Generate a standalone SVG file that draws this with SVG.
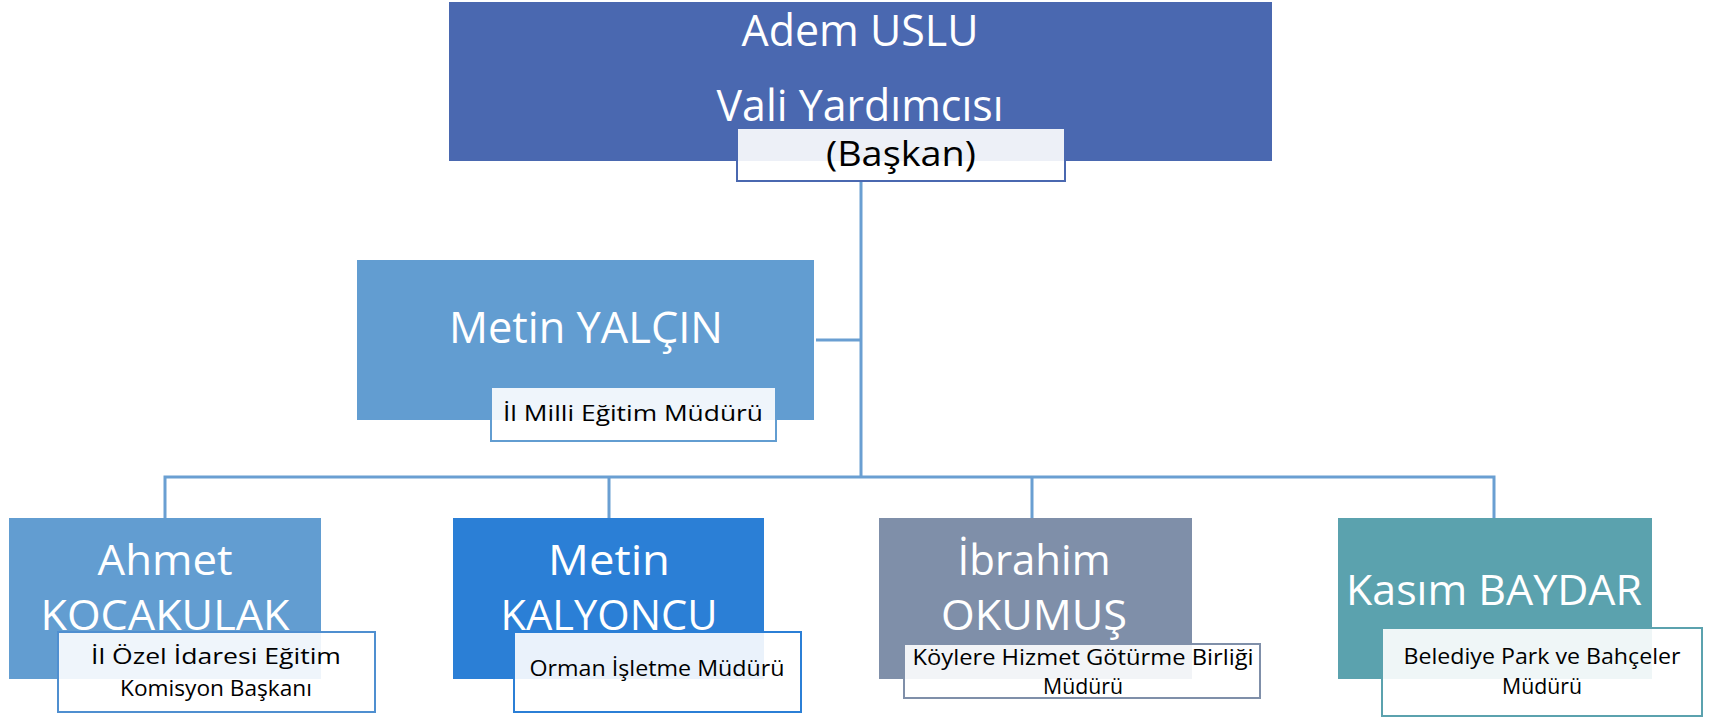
<svg xmlns="http://www.w3.org/2000/svg" width="1715" height="718" viewBox="0 0 1715 718">
<style>
.name{font-family:"Open Sans","Noto Sans",sans-serif;fill:#ffffff;text-anchor:middle}
.sub{font-family:"Open Sans","Noto Sans",sans-serif;fill:#000000;text-anchor:middle}
.lbl{fill:#ffffff;fill-opacity:0.9;stroke-width:2}
.conn{stroke:#6A9FD2;stroke-width:3;fill:none}
</style>
<rect width="1715" height="718" fill="#ffffff"/>
<g id="connectors">
<path class="conn" d="M861 181 V477 M816 340 H861 M165 518 V477 H1494 V518 M609 477 V518 M1032 477 V518"/>
</g>
<g id="node-adem">
<rect x="449" y="2" width="823" height="159" fill="#4A68B0"/>
<text class="name" x="860" y="46" font-size="43" textLength="237" lengthAdjust="spacingAndGlyphs">Adem USLU</text>
<text class="name" x="860" y="121" font-size="43" textLength="287" lengthAdjust="spacingAndGlyphs">Vali Yardımcısı</text>
<rect class="lbl" x="737" y="128" width="328" height="53" stroke="#4A68B0"/>
<text class="sub" x="901" y="166" font-size="35" textLength="150" lengthAdjust="spacingAndGlyphs">(Başkan)</text>
</g>
<g id="node-metin-yalcin">
<rect x="357" y="260" width="457" height="160" fill="#629DD1"/>
<text class="name" x="586" y="343" font-size="44" textLength="274" lengthAdjust="spacingAndGlyphs">Metin YALÇIN</text>
<rect class="lbl" x="491" y="387" width="285" height="54" stroke="#629DD1"/>
<text class="sub" x="633" y="421" font-size="22" textLength="260" lengthAdjust="spacingAndGlyphs">İl Milli Eğitim Müdürü</text>
</g>
<g id="node-ahmet">
<rect x="9" y="518" width="312" height="161" fill="#629DD1"/>
<text class="name" x="165" y="575" font-size="42" textLength="135" lengthAdjust="spacingAndGlyphs">Ahmet</text>
<text class="name" x="165" y="630" font-size="42" textLength="249" lengthAdjust="spacingAndGlyphs">KOCAKULAK</text>
<rect class="lbl" x="58" y="632" width="317" height="80" stroke="#4F8FD0"/>
<text class="sub" x="216" y="664" font-size="21" textLength="250" lengthAdjust="spacingAndGlyphs">İl Özel İdaresi Eğitim</text>
<text class="sub" x="216" y="696" font-size="21" textLength="192" lengthAdjust="spacingAndGlyphs">Komisyon Başkanı</text>
</g>
<g id="node-metin-kalyoncu">
<rect x="453" y="518" width="311" height="161" fill="#2B7FD6"/>
<text class="name" x="609" y="575" font-size="42" textLength="122" lengthAdjust="spacingAndGlyphs">Metin</text>
<text class="name" x="609" y="630" font-size="42" textLength="217" lengthAdjust="spacingAndGlyphs">KALYONCU</text>
<rect class="lbl" x="514" y="632" width="287" height="80" stroke="#2B7FD6"/>
<text class="sub" x="657" y="676" font-size="21" textLength="255" lengthAdjust="spacingAndGlyphs">Orman İşletme Müdürü</text>
</g>
<g id="node-ibrahim">
<rect x="879" y="518" width="313" height="161" fill="#7F8FA9"/>
<text class="name" x="1034" y="575" font-size="42" textLength="153" lengthAdjust="spacingAndGlyphs">İbrahim</text>
<text class="name" x="1034" y="630" font-size="42" textLength="186" lengthAdjust="spacingAndGlyphs">OKUMUŞ</text>
<rect class="lbl" x="904" y="644" width="356" height="54" stroke="#7F8FA9"/>
<text class="sub" x="1083" y="665" font-size="21" textLength="341" lengthAdjust="spacingAndGlyphs">Köylere Hizmet Götürme Birliği</text>
<text class="sub" x="1083" y="694" font-size="21" textLength="80" lengthAdjust="spacingAndGlyphs">Müdürü</text>
</g>
<g id="node-kasim">
<rect x="1338" y="518" width="314" height="161" fill="#5BA2AE"/>
<text class="name" x="1494" y="605" font-size="42" textLength="296" lengthAdjust="spacingAndGlyphs">Kasım BAYDAR</text>
<rect class="lbl" x="1382" y="628" width="320" height="88" stroke="#5BA2AE"/>
<text class="sub" x="1542" y="664" font-size="21" textLength="277" lengthAdjust="spacingAndGlyphs">Belediye Park ve Bahçeler</text>
<text class="sub" x="1542" y="694" font-size="21" textLength="80" lengthAdjust="spacingAndGlyphs">Müdürü</text>
</g>
</svg>
